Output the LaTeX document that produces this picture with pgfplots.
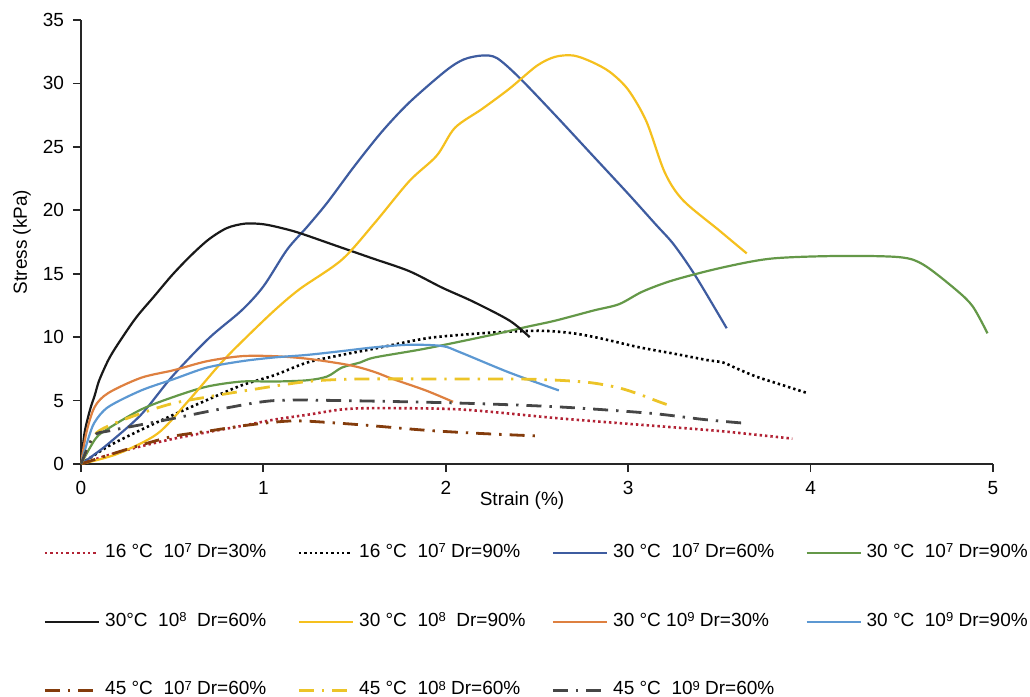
\documentclass[border=0pt]{standalone}
\usepackage{fontspec}
\setmainfont{Liberation Sans}
\usepackage{pgfplots}
\pgfplotsset{compat=1.18}
\definecolor{cRed}{RGB}{178,34,52}
\definecolor{cDBlue}{RGB}{62,92,160}
\definecolor{cGreen}{RGB}{100,152,72}
\definecolor{cYellow}{RGB}{245,192,30}
\definecolor{cOrange}{RGB}{222,128,64}
\definecolor{cLBlue}{RGB}{92,152,210}
\definecolor{cBrown}{RGB}{132,60,12}
\definecolor{cYellow2}{RGB}{236,196,40}
\definecolor{cGray}{RGB}{70,70,70}
\newcommand\sx[1]{\raisebox{2.4pt}{\fontsize{6.5}{6.5}\selectfont #1}}
\tikzset{
  dots/.style={line width=1.3pt, dash pattern=on 1.2pt off 1.5pt},
  dashdot/.style={line width=1.4pt, dash pattern=on 7.5pt off 4pt on 1.2pt off 4pt},
  solidc/.style={line width=1.1pt},
}
\begin{document}
\begin{tikzpicture}
\useasboundingbox (-40.5pt,-116.5pt) rectangle (474.5pt,232pt);
\begin{axis}[
  at={(0pt,0pt)}, anchor=south west,
  scale only axis, width=456pt, height=222pt,
  xmin=0, xmax=5, ymin=0, ymax=35,
  xtick={0,1,2,3,4,5}, ytick={0,5,10,15,20,25,30,35},
  axis x line=bottom, axis y line=left,
  axis line style={-, line width=0.9pt, black!85},
  tick align=outside, major tick length=4pt,
  tick style={line width=0.9pt, black!85},
  /pgf/number format/assume math mode=true,
  ticklabel style={font=\fontsize{9.5}{11}\selectfont},
  xticklabel style={yshift=-1pt},
  yticklabel style={xshift=-1pt},
  every axis x label/.style={at={(axis description cs:0.4836,-0.082)}, anchor=center},
  every axis y label/.style={at={(axis description cs:-0.0647,0.5)}, rotate=90, anchor=center},
  label style={font=\fontsize{9.5}{11}\selectfont},
  xlabel={Strain (\%)}, ylabel={Stress (kPa)},
  legend columns=4,
  legend cell align=left,
  legend image code/.code={\draw[#1] (0pt,-0.6pt) -- (27pt,-0.6pt);},
  legend style={draw=none, fill=none,
    at={(axis description cs:-0.0482,-0.1690)}, anchor=north west,
    font=\fontsize{9.5}{11}\selectfont, row sep=26pt,
    nodes={inner sep=0pt},
    /tikz/every odd column/.append style={column sep=2.5pt},
    /tikz/every even column/.append style={column sep=4.1pt}},
]
% 16 C 10^7 Dr=30%
\addplot[cRed, dots, smooth] coordinates {(0,0)(0.15,0.7)(0.33,1.4)(0.51,2.0)(0.69,2.5)(0.88,3.0)(1.06,3.5)(1.25,3.9)(1.43,4.3)(1.61,4.4)(2.08,4.3)(2.62,3.6)(3.06,3.1)(3.5,2.6)(3.9,2.0)};
\addlegendentry{\makebox[92pt][l]{16 °C\ \ 10\sx{7} Dr=30\%}}
% 16 C 10^7 Dr=90%
\addplot[black, dots, smooth] coordinates {(0,0)(0.15,1.4)(0.33,2.7)(0.51,3.9)(0.7,5.1)(0.88,6.2)(1.06,7.0)(1.24,8.0)(1.43,8.6)(1.61,9.1)(1.89,9.9)(2.1,10.2)(2.3,10.4)(2.53,10.5)(2.7,10.3)(2.85,9.9)(3.06,9.2)(3.25,8.7)(3.43,8.2)(3.52,8.0)(3.6,7.5)(3.7,6.9)(3.85,6.2)(3.98,5.6)};
\addlegendentry{\makebox[92pt][l]{16 °C\ \ 10\sx{7} Dr=90\%}}
% 30 C 10^7 Dr=60%
\addplot[cDBlue, solidc, smooth] coordinates {(0,0)(0.05,0.5)(0.15,1.6)(0.33,3.9)(0.5,6.9)(0.7,9.9)(0.88,12.1)(1.0,14)(1.13,16.9)(1.24,18.7)(1.35,20.6)(1.5,23.5)(1.65,26.2)(1.8,28.5)(2.0,31)(2.1,31.9)(2.2,32.2)(2.28,32)(2.4,30.5)(2.6,27.5)(2.8,24.4)(3.0,21.3)(3.15,18.9)(3.25,17.3)(3.37,14.8)(3.54,10.7)};
\addlegendentry{\makebox[92pt][l]{30 °C\ \ 10\sx{7} Dr=60\%}}
% 30 C 10^7 Dr=90%
\addplot[cGreen, solidc, smooth] coordinates {(0,0)(0.08,2)(0.15,2.8)(0.33,4.3)(0.51,5.3)(0.69,6.1)(0.88,6.5)(1.06,6.5)(1.24,6.6)(1.35,6.9)(1.43,7.6)(1.53,8.0)(1.61,8.4)(1.89,9.1)(2.26,10.2)(2.44,10.8)(2.6,11.3)(2.81,12.1)(2.95,12.6)(3.08,13.6)(3.25,14.5)(3.52,15.5)(3.79,16.2)(4.16,16.4)(4.49,16.3)(4.62,15.7)(4.8,13.7)(4.89,12.4)(4.97,10.3)};
\addlegendentry{\makebox[92pt][l]{30 °C\ \ 10\sx{7} Dr=90\%}}
% 30 C 10^8 Dr=60%
\addplot[black!90, solidc, smooth] coordinates {(0,0)(0.02,2.5)(0.05,4.3)(0.075,5.4)(0.1,6.6)(0.15,8.2)(0.2,9.4)(0.3,11.5)(0.4,13.2)(0.5,14.9)(0.6,16.4)(0.7,17.7)(0.8,18.6)(0.9,18.95)(1.0,18.9)(1.1,18.6)(1.2,18.2)(1.4,17.2)(1.6,16.2)(1.8,15.2)(1.98,13.9)(2.15,12.8)(2.35,11.3)(2.46,10.0)};
\addlegendentry{\makebox[92pt][l]{30°C\ \ 10\sx{8}\ \ Dr=60\%}}
% 30 C 10^8 Dr=90%
\addplot[cYellow, solidc, smooth] coordinates {(0,0)(0.2,0.8)(0.42,2.4)(0.59,5)(0.77,8)(0.9,9.9)(1.06,12.1)(1.2,13.8)(1.43,16.1)(1.61,19)(1.8,22.3)(1.95,24.3)(2.05,26.5)(2.2,28)(2.35,29.6)(2.5,31.4)(2.6,32.1)(2.7,32.2)(2.8,31.7)(2.9,30.9)(3.0,29.5)(3.1,27)(3.2,23)(3.3,20.8)(3.5,18.4)(3.65,16.6)};
\addlegendentry{\makebox[92pt][l]{30 °C\ \ 10\sx{8}\ \ Dr=90\%}}
% 30 C 10^9 Dr=30%
\addplot[cOrange, solidc, smooth] coordinates {(0,0)(0.03,2.5)(0.075,4.5)(0.15,5.6)(0.33,6.8)(0.51,7.4)(0.69,8.1)(0.88,8.5)(1.06,8.5)(1.24,8.3)(1.43,7.9)(1.53,7.6)(1.62,7.2)(1.71,6.7)(1.89,5.8)(2.04,4.9)};
\addlegendentry{\makebox[92pt][l]{30 °C 10\sx{9} Dr=30\%}}
% 30 C 10^9 Dr=90%
\addplot[cLBlue, solidc, smooth] coordinates {(0,0)(0.04,2)(0.075,3.3)(0.15,4.5)(0.33,5.8)(0.51,6.7)(0.69,7.6)(0.88,8.1)(1.06,8.4)(1.24,8.6)(1.43,8.9)(1.61,9.2)(1.8,9.4)(1.98,9.3)(2.08,8.8)(2.35,7.2)(2.62,5.8)};
\addlegendentry{\makebox[92pt][l]{30 °C\ \ 10\sx{9} Dr=90\%}}
% 45 C 10^7 Dr=60%
\addplot[cBrown, dashdot, smooth] coordinates {(0,0)(0.15,0.7)(0.33,1.5)(0.51,2.2)(0.7,2.6)(0.88,3.0)(1.06,3.3)(1.2,3.4)(1.43,3.2)(1.61,3.0)(1.9,2.65)(2.2,2.4)(2.52,2.2)};
\addlegendentry{\makebox[92pt][l]{45 °C\ \ 10\sx{7} Dr=60\%}}
% 45 C 10^8 Dr=60%
\addplot[cYellow2, dashdot, smooth] coordinates {(0,0)(0.07,2.2)(0.15,3.0)(0.33,4.0)(0.51,4.8)(0.7,5.3)(0.91,5.8)(1.24,6.5)(1.53,6.7)(2.08,6.7)(2.4,6.7)(2.62,6.6)(2.8,6.4)(2.95,6.0)(3.06,5.5)(3.17,4.9)(3.25,4.5)};
\addlegendentry{\makebox[92pt][l]{45 °C\ \ 10\sx{8} Dr=60\%}}
% 45 C 10^9 Dr=60%
\addplot[cGray, dashdot, smooth] coordinates {(0,0)(0.07,2.2)(0.15,2.6)(0.33,3.1)(0.51,3.6)(0.79,4.4)(1.06,5.0)(1.43,5.0)(2.08,4.8)(2.62,4.5)(3.12,4.0)(3.42,3.5)(3.65,3.2)};
\addlegendentry{\makebox[92pt][l]{45 °C\ \ 10\sx{9} Dr=60\%}}
\end{axis}
\end{tikzpicture}
\end{document}
